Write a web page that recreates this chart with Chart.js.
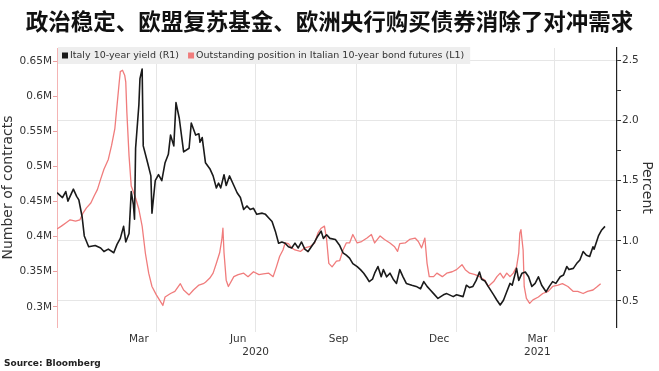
<!DOCTYPE html>
<html>
<head>
<meta charset="utf-8">
<script src="https://cdn.jsdelivr.net/npm/chart.js@4/dist/chart.umd.min.js"></script>
<style>
  body { margin: 0; background: #fff; }
  #wrap { position: relative; width: 659px; height: 371px; overflow: hidden; }
  #chart { position: absolute; left: 0; top: 0; }
  #title { position: absolute; left: 0; top: 9px; width: 659px; text-align: center;
           font: bold 22.5px "Noto Sans CJK SC"; line-height: 1; color: #111; }
  #source { position: absolute; left: 4px; top: 358px; font: bold 9px "DejaVu Sans"; color: #222; }
</style>
</head>
<body>
<div id="wrap">
  <canvas id="chart" width="659" height="371"></canvas>
  <div id="title">政治稳定、欧盟复苏基金、欧洲央行购买债券消除了对冲需求</div>
  <div id="source">Source: Bloomberg</div>
</div>
<script>
// x values are days counted from 1 Jan 2020
const yieldDays = [0,5,8,10,15,18,20,23,25,29,
  35,40,43,47,52,55,58,61,63,66,
  68,70,71,72,75,76,78,79,83,86,
  87,90,93,96,99,102,104,107,109,112,
  116,121,123,127,130,131,133,134,136,140,
  143,146,148,150,153,155,158,162,165,168,
  171,174,177,180,183,188,191,194,197,200,
  203,206,209,212,215,218,221,224,227,230,
  233,236,239,242,244,247,250,255,259,262,
  265,268,271,275,278,281,284,286,289,291,
  294,297,299,302,305,308,311,314,317,320,
  325,329,333,336,339,342,345,349,354,357,
  363,366,372,375,378,381,384,387,389,392,
  395,400,403,406,409,412,415,417,421,423,
  426,429,432,435,438,441,444,448,451,454,
  457,461,464,467,469,473,476,479,482,485,
  488,491,492,496,499,502];
const yieldValues = [1.40,1.36,1.41,1.33,1.43,1.37,1.34,1.20,1.04,0.95,
  0.96,0.94,0.91,0.93,0.90,0.97,1.02,1.12,0.99,1.06,
  1.41,1.30,1.18,1.77,2.13,2.35,2.43,1.79,1.65,1.54,
  1.23,1.50,1.55,1.50,1.65,1.72,1.88,1.79,2.15,2.02,
  1.74,1.77,1.98,1.88,1.89,1.82,1.86,1.79,1.65,1.60,
  1.54,1.44,1.48,1.44,1.55,1.46,1.54,1.46,1.40,1.36,
  1.26,1.29,1.26,1.27,1.22,1.23,1.22,1.19,1.16,1.08,
  0.98,0.99,0.98,0.95,0.94,0.98,0.94,0.99,0.93,0.91,
  0.95,0.99,1.04,1.08,1.02,1.05,1.02,1.01,0.96,0.90,
  0.88,0.855,0.81,0.785,0.76,0.73,0.69,0.66,0.68,0.73,
  0.785,0.70,0.76,0.70,0.73,0.68,0.645,0.76,0.70,0.645,
  0.63,0.62,0.60,0.66,0.62,0.59,0.56,0.52,0.55,0.56,
  0.535,0.55,0.535,0.63,0.61,0.62,0.67,0.74,0.68,0.665,
  0.62,0.55,0.505,0.465,0.505,0.575,0.645,0.63,0.77,0.67,
  0.73,0.74,0.70,0.62,0.645,0.70,0.63,0.575,0.62,0.66,
  0.645,0.70,0.715,0.785,0.76,0.77,0.81,0.84,0.91,0.88,
  0.87,0.95,0.93,1.04,1.09,1.12];

const futuresDays = [0,4,8,12,17,21,24,27,31,34,
  37,40,43,47,50,53,55,57,58,60,
  62,63,64,66,68,72,75,78,81,84,
  87,91,97,99,104,108,113,116,121,125,
  130,134,136,140,143,146,149,151,152,153,
  155,157,162,166,171,175,180,185,189,194,
  198,201,204,207,209,212,215,218,223,227,
  232,236,239,242,245,247,249,252,256,259,
  262,265,268,271,275,279,284,288,291,296,
  300,305,309,312,314,319,323,328,331,334,
  337,339,341,345,348,353,357,362,366,371,
  374,378,383,387,392,395,400,403,406,409,
  412,415,418,421,423,424,425,427,428,430,
  433,436,441,445,450,454,459,463,468,473,
  477,482,486,491,495,498];
// millions of contracts
const futuresValues = [0.411,0.415,0.4195,0.424,0.422,0.424,0.434,0.441,0.448,0.458,
  0.467,0.482,0.496,0.510,0.530,0.554,0.587,0.620,0.635,0.637,
  0.630,0.620,0.577,0.515,0.472,0.455,0.439,0.415,0.376,0.348,
  0.329,0.317,0.302,0.314,0.319,0.322,0.333,0.324,0.317,0.324,
  0.331,0.333,0.335,0.341,0.348,0.362,0.377,0.396,0.412,0.377,
  0.338,0.329,0.343,0.346,0.348,0.343,0.350,0.346,0.347,0.348,
  0.343,0.357,0.372,0.381,0.391,0.390,0.384,0.381,0.379,0.384,
  0.386,0.391,0.405,0.412,0.415,0.396,0.362,0.357,0.365,0.366,
  0.381,0.391,0.391,0.403,0.391,0.393,0.398,0.403,0.391,0.401,
  0.396,0.391,0.386,0.379,0.390,0.391,0.396,0.398,0.393,0.384,
  0.398,0.362,0.343,0.343,0.348,0.343,0.348,0.350,0.353,0.360,
  0.353,0.348,0.346,0.343,0.338,0.329,0.336,0.343,0.348,0.341,
  0.348,0.343,0.348,0.357,0.377,0.405,0.410,0.381,0.329,0.312,
  0.305,0.310,0.314,0.319,0.322,0.329,0.331,0.333,0.329,0.322,
  0.322,0.319,0.322,0.324,0.329,0.333];

// axis ticks
const monthTickDays = [75, 166, 258, 350, 440];
const monthTickLabels = ['Mar', 'Jun', 'Sep', 'Dec', 'Mar'];
const yearTickDays = [182, 440];
const yearTickLabels = ['2020', '2021'];
const quarterGridDays = [91, 182, 274, 366, 456];
const leftTicks = [0.3, 0.35, 0.4, 0.45, 0.5, 0.55, 0.6, 0.65];
const rightTicks = [0.5, 0.75, 1.0, 1.25, 1.5, 1.75, 2.0, 2.25, 2.5];

const xTickDays = [...new Set([...monthTickDays, ...yearTickDays, ...quarterGridDays])].sort((a, b) => a - b);

function xLabel(v) {
  const m = monthTickDays.indexOf(v);
  const y = yearTickDays.indexOf(v);
  if (m >= 0 && y >= 0) return [monthTickLabels[m], yearTickLabels[y]];
  if (m >= 0) return monthTickLabels[m];
  if (y >= 0) return ['', yearTickLabels[y]];
  return '';
}

const font = 'DejaVu Sans';

// legend on a grey band inside the plot, top left (built from the dataset labels)
const plotLegend = {
  id: 'plotLegend',
  beforeDatasetsDraw(chart) {
    const ca = chart.chartArea, ctx = chart.ctx;
    const fs = 9.5, box = 6, gap = 2, pad = 5, sep = 9;
    ctx.save();
    ctx.font = fs + 'px "' + font + '"';
    const items = chart.data.datasets.map(ds => ({ text: ds.label, color: ds.borderColor, w: ctx.measureText(ds.label).width }));
    const total = items.reduce((s, it) => s + box + gap + it.w, 0) + sep * (items.length - 1) + pad * 2;
    ctx.fillStyle = '#eeeeee';
    ctx.fillRect(ca.left + 1, ca.top - 1, total, 17);
    let x = ca.left + pad;
    const cy = ca.top + 7.5;
    ctx.textBaseline = 'middle';
    items.forEach(it => {
      ctx.fillStyle = it.color;
      ctx.fillRect(x, cy - box / 2, box, box);
      x += box + gap;
      ctx.fillStyle = '#333';
      ctx.fillText(it.text, x, cy + 0.5);
      x += it.w + sep;
    });
    ctx.restore();
  }
};

new Chart(document.getElementById('chart').getContext('2d'), {
  type: 'line',
  data: {
    datasets: [
      {
        label: 'Italy 10-year yield (R1)',
        data: yieldDays.map((d, i) => ({ x: d, y: yieldValues[i] })),
        yAxisID: 'yR',
        borderColor: '#1a1a1a',
        backgroundColor: '#1a1a1a',
        borderWidth: 1.6,
        borderJoinStyle: 'round',
        pointRadius: 0,
        tension: 0
      },
      {
        label: 'Outstanding position in Italian 10-year bond futures (L1)',
        data: futuresDays.map((d, i) => ({ x: d, y: futuresValues[i] })),
        yAxisID: 'yL',
        borderColor: '#f07c7c',
        backgroundColor: '#f07c7c',
        borderWidth: 1.3,
        borderJoinStyle: 'round',
        pointRadius: 0,
        tension: 0
      }
    ]
  },
  plugins: [plotLegend],
  options: {
    responsive: false,
    animation: false,
    layout: { padding: { top: 48, left: 0, right: 0, bottom: 0 } },
    plugins: {
      title: { display: false },
      tooltip: { enabled: false },
      legend: { display: false }
    },
    scales: {
      x: {
        type: 'linear',
        min: 0,
        max: 513,
        afterBuildTicks: s => { s.ticks = xTickDays.map(v => ({ value: v })); },
        afterFit: s => { s.height = 44; },
        border: { display: false },
        grid: {
          color: c => (c.tick && quarterGridDays.includes(c.tick.value)) ? '#e6e6e6' : 'rgba(0,0,0,0)',
          tickLength: 5,
          lineWidth: 1
        },
        ticks: {
          autoSkip: false,
          maxRotation: 0,
          padding: 0,
          color: '#333',
          font: { family: font, size: 10.5, lineHeight: 1.3 },
          callback: v => xLabel(v)
        }
      },
      yL: {
        type: 'linear',
        position: 'left',
        min: 0.2713,
        max: 0.6687,
        afterBuildTicks: s => { s.ticks = leftTicks.map(v => ({ value: v })); },
        afterFit: s => { s.width = 57; },
        border: { display: true, color: '#f4b4b4', width: 1 },
        grid: { drawOnChartArea: false, tickLength: 4, color: '#e9a0a0' },
        title: {
          display: true,
          text: 'Number of contracts',
          color: '#333',
          font: { family: font, size: 14 },
          padding: { top: 0, bottom: 2 }
        },
        ticks: {
          padding: 1,
          color: '#333',
          font: { family: font, size: 10.5 },
          callback: v => parseFloat(v.toFixed(2)) + 'M'
        }
      },
      yR: {
        type: 'linear',
        position: 'right',
        min: 0.282,
        max: 2.605,
        afterBuildTicks: s => { s.ticks = rightTicks.map(v => ({ value: v })); },
        afterFit: s => { s.width = 42; },
        border: { display: true, color: '#222', width: 1.2 },
        grid: {
          color: c => (c.tick && Math.abs(c.tick.value * 2 - Math.round(c.tick.value * 2)) < 1e-6) ? '#e6e6e6' : 'rgba(0,0,0,0)',
          tickColor: '#333',
          tickLength: 4
        },
        title: {
          display: true,
          text: 'Percent',
          color: '#333',
          font: { family: font, size: 14 },
          padding: { top: 4, bottom: 0 }
        },
        ticks: {
          padding: 1,
          color: '#333',
          font: { family: font, size: 10.5 },
          callback: v => Math.abs(v * 2 - Math.round(v * 2)) < 1e-6 ? v.toFixed(1) : ''
        }
      }
    }
  }
});
</script>
</body>
</html>
